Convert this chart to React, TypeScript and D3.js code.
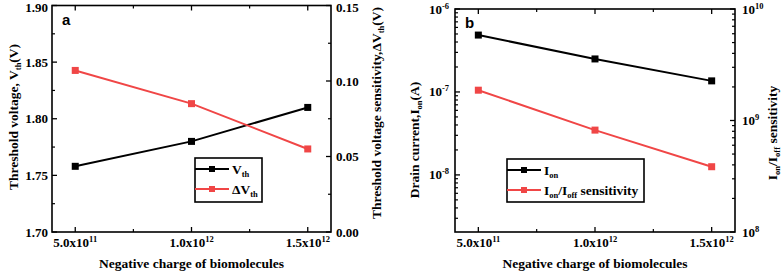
import React from "react";
import * as d3 from "d3";

const charges = [5e11, 1e12, 1.5e12];
const xTicks = [5e11, 1e12, 1.5e12];
const xMinor = [7.5e11, 1.25e12];
const vth = [1.758, 1.78, 1.81];
const dVth = [0.107, 0.085, 0.055];
const vthTicks = [1.7, 1.75, 1.8, 1.85, 1.9];
const dVthTicks = [0, 0.05, 0.1, 0.15];
const ion = [4.85e-7, 2.5e-7, 1.36e-7];
const ratio = [1.87e9, 8.2e8, 3.85e8];
const ionTicks = [1e-8, 1e-7, 1e-6];
const ratioTicks = [1e8, 1e9, 1e10];

const RED = "#f04646";
const FONT = "'Liberation Serif', 'Times New Roman', serif";
const TICK_FS = 13;
const SUP_FS = 8.5;
const TITLE_FS = 13.5;

function sciLabel(v: number) {
  const e = Math.floor(Math.log10(v) + 1e-9);
  const m = v / Math.pow(10, e);
  return { m: m.toFixed(1) + "x10", e: String(e) };
}

function logMinor(domain: [number, number]) {
  const out: number[] = [];
  const lo = Math.floor(Math.log10(domain[0]));
  const hi = Math.ceil(Math.log10(domain[1]));
  for (let p = lo; p < hi; p++) {
    for (let k = 2; k <= 9; k++) {
      const v = k * Math.pow(10, p);
      if (v >= domain[0] && v <= domain[1]) out.push(v);
    }
  }
  return out;
}

type Y = d3.ScaleContinuousNumeric<number, number>;

const labelY = (y: number) => Math.max(y + 4.5, 12);

function Panel(props: {
  x0: number; x1: number; y0: number; y1: number;
  yL: Y; yR: Y; ticksL: number[]; ticksR: number[]; minorL: number[]; minorR: number[];
  fmtL: (v: number) => React.ReactNode; fmtR: (v: number) => React.ReactNode;
  sL: number[]; sR: number[]; letter: string;
  titleL: React.ReactNode; titleR: React.ReactNode; titleLY: number; titleRY: number;
  titleLX: number; titleRX: number; labLX: number; labRX: number;
  legend: { x: number; y: number; w: number; h: number; l1: React.ReactNode; l2: React.ReactNode };
}) {
  const p = props;
  const x = d3.scaleLinear().domain([4e11, 1.6e12]).range([p.x0, p.x1]);
  const lineL = d3.line<number>().x((_, i) => x(charges[i])).y((d) => p.yL(d));
  const lineR = d3.line<number>().x((_, i) => x(charges[i])).y((d) => p.yR(d));
  const M = 5, m = 3;
  const lg = p.legend;
  return (
    <g fontFamily={FONT} fontWeight="bold">
      {xTicks.map((t) => (
        <g key={"xt" + t}>
          <line x1={x(t)} x2={x(t)} y1={p.y1} y2={p.y1 - M} stroke="#000" strokeWidth={1.3} />
          <line x1={x(t)} x2={x(t)} y1={p.y0} y2={p.y0 + M} stroke="#000" strokeWidth={1.3} />
          <text x={x(t)} y={p.y1 + 15} textAnchor="middle" fontSize={TICK_FS}>
            {sciLabel(t).m}
            <tspan dy={-5} fontSize={SUP_FS}>{sciLabel(t).e}</tspan>
          </text>
        </g>
      ))}
      {xMinor.map((t) => (
        <g key={"xm" + t}>
          <line x1={x(t)} x2={x(t)} y1={p.y1} y2={p.y1 - m} stroke="#000" strokeWidth={1.2} />
          <line x1={x(t)} x2={x(t)} y1={p.y0} y2={p.y0 + m} stroke="#000" strokeWidth={1.2} />
        </g>
      ))}
      {p.ticksL.map((t) => (
        <g key={"yl" + t}>
          <line x1={p.x0} x2={p.x0 + M} y1={p.yL(t)} y2={p.yL(t)} stroke="#000" strokeWidth={1.3} />
          <text x={p.labLX} y={labelY(p.yL(t))} textAnchor="end" fontSize={TICK_FS}>{p.fmtL(t)}</text>
        </g>
      ))}
      {p.minorL.map((t) => (
        <line key={"ylm" + t} x1={p.x0} x2={p.x0 + m} y1={p.yL(t)} y2={p.yL(t)} stroke="#000" strokeWidth={1.2} />
      ))}
      {p.ticksR.map((t) => (
        <g key={"yr" + t}>
          <line x1={p.x1} x2={p.x1 - M} y1={p.yR(t)} y2={p.yR(t)} stroke="#000" strokeWidth={1.3} />
          <text x={p.labRX} y={labelY(p.yR(t))} textAnchor="start" fontSize={TICK_FS}>{p.fmtR(t)}</text>
        </g>
      ))}
      {p.minorR.map((t) => (
        <line key={"yrm" + t} x1={p.x1} x2={p.x1 - m} y1={p.yR(t)} y2={p.yR(t)} stroke="#000" strokeWidth={1.2} />
      ))}
      <rect x={p.x0} y={p.y0} width={p.x1 - p.x0} height={p.y1 - p.y0} fill="none" stroke="#000" strokeWidth={1.6} />
      <path d={lineL(p.sL) || ""} fill="none" stroke="#000" strokeWidth={2} />
      <path d={lineR(p.sR) || ""} fill="none" stroke={RED} strokeWidth={2} />
      {p.sL.map((d, i) => (
        <rect key={"ml" + i} x={x(charges[i]) - 3.5} y={p.yL(d) - 3.5} width={7} height={7} fill="#000" />
      ))}
      {p.sR.map((d, i) => (
        <rect key={"mr" + i} x={x(charges[i]) - 3.5} y={p.yR(d) - 3.5} width={7} height={7} fill={RED} />
      ))}
      <text x={p.x0 + 10} y={p.y0 + 19} fontFamily="'Liberation Sans', Arial, sans-serif" fontSize={15} fontWeight="bold">{p.letter}</text>
      <rect x={lg.x} y={lg.y} width={lg.w} height={lg.h} fill="#fff" stroke="#000" strokeWidth={1.6} />
      <line x1={lg.x} x2={lg.x + 34} y1={lg.y + 11} y2={lg.y + 11} stroke="#000" strokeWidth={2} />
      <rect x={lg.x + 17 - 3} y={lg.y + 11 - 3} width={6} height={6} fill="#000" />
      <text x={lg.x + 37} y={lg.y + 16} fontSize={13.5}>{lg.l1}</text>
      <line x1={lg.x} x2={lg.x + 34} y1={lg.y + 31} y2={lg.y + 31} stroke={RED} strokeWidth={2} />
      <rect x={lg.x + 17 - 3} y={lg.y + 31 - 3} width={6} height={6} fill={RED} />
      <text x={lg.x + 37} y={lg.y + 36} fontSize={13.5}>{lg.l2}</text>
      <text x={(p.x0 + p.x1) / 2} y={268} textAnchor="middle" fontSize={TITLE_FS}>Negative charge of biomolecules</text>
      <text transform={`translate(${p.titleLX},${p.titleLY}) rotate(-90)`} textAnchor="middle" fontSize={TITLE_FS}>{p.titleL}</text>
      <text transform={`translate(${p.titleRX},${p.titleRY}) rotate(-90)`} textAnchor="middle" fontSize={TITLE_FS}>{p.titleR}</text>
    </g>
  );
}

function Sub({ t }: { t: string }) {
  return <tspan fontSize={SUP_FS} dy={3}>{t}</tspan>;
}

export default function App() {
  const ayL = d3.scaleLinear().domain([1.7, 1.9]).range([232, 5.5]);
  const ayR = d3.scaleLinear().domain([0, 0.15]).range([232, 5.5]);
  const byL = d3.scaleLog().domain([2.05e-9, 1e-6]).range([232, 9]);
  const byR = d3.scaleLog().domain([1e8, 1e10]).range([232, 9]);
  const minorA = [1.725, 1.775, 1.825, 1.875];
  const minorAR = [0.025, 0.075, 0.125];
  const pow = (v: number) => {
    const e = Math.round(Math.log10(v));
    return (
      <>
        10<tspan dy={-5} fontSize={SUP_FS}>{String(e)}</tspan>
      </>
    );
  };
  return (
    <svg width={784} height={277} style={{ position: "absolute", left: 0, top: 0, background: "#fff" }}>
      <Panel
        x0={52} x1={331} y0={5.5} y1={232}
        yL={ayL} yR={ayR} ticksL={vthTicks} ticksR={dVthTicks} minorL={minorA} minorR={minorAR}
        fmtL={(v) => v.toFixed(2)} fmtR={(v) => v.toFixed(2)}
        sL={vth} sR={dVth} letter="a"
        titleL={<>Threshold voltage, V<Sub t="th" /><tspan dy={-3}>(V)</tspan></>}
        titleR={<>Threshold voltage sensitivity,ΔV<Sub t="th" /><tspan dy={-3}>(V)</tspan></>}
        titleLX={18} titleLY={117} titleRX={381} titleRY={113}
        labLX={48} labRX={336}
        legend={{
          x: 195, y: 158, w: 67, h: 44,
          l1: <>V<Sub t="th" /></>,
          l2: <>ΔV<Sub t="th" /></>,
        }}
      />
      <Panel
        x0={455} x1={735} y0={9} y1={232}
        yL={byL} yR={byR} ticksL={ionTicks} ticksR={ratioTicks}
        minorL={logMinor([2.05e-9, 1e-6])} minorR={logMinor([1e8, 1e10])}
        fmtL={pow} fmtR={pow}
        sL={ion} sR={ratio} letter="b"
        titleL={<>Drain current,I<Sub t="on" /><tspan dy={-3}>(A)</tspan></>}
        titleR={<>I<Sub t="on" /><tspan dy={-3}>/I</tspan><Sub t="off" /><tspan dy={-3}> sensitivity</tspan></>}
        titleLX={419} titleLY={140} titleRX={777} titleRY={133}
        labLX={449} labRX={742}
        legend={{
          x: 507, y: 159, w: 137, h: 43,
          l1: <>I<Sub t="on" /></>,
          l2: <>I<Sub t="on" /><tspan dy={-3}>/I</tspan><Sub t="off" /><tspan dy={-3}> sensitivity</tspan></>,
        }}
      />
    </svg>
  );
}
